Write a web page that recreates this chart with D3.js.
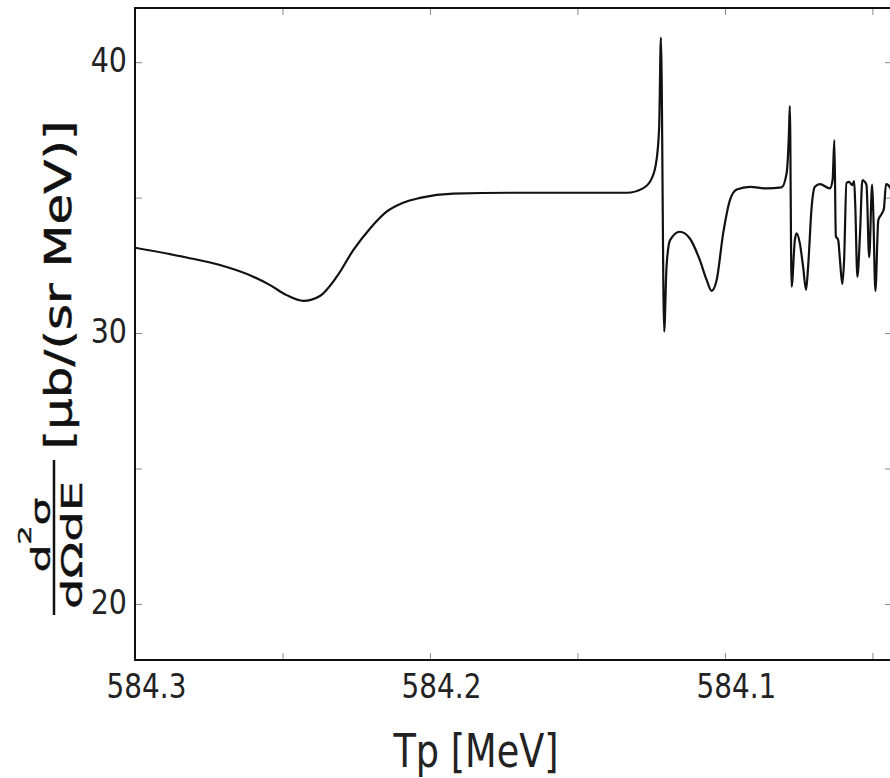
<!DOCTYPE html>
<html lang="en">
<head>
<meta charset="UTF-8">
<title>Tp spectrum</title>
<style>
    body,html{
        margin:0;
        padding:0;
        border:0;
        background:#fff;
    }
    svg{display:block;font-family:"DejaVu Sans",sans-serif;}
</style>
</head>
<body>
<svg id="svg" width="890" height="778"></svg>
<script src="https://cdnjs.cloudflare.com/ajax/libs/d3/7.8.5/d3.min.js"></script>
<script>
// values: proton energy Tp [MeV] and d2sigma/dOmega dE
var tp = [584.3, 584.2825, 584.2712, 584.2599, 584.2542, 584.2486, 584.2429, 584.2373, 584.2316,
    584.2260, 584.2203, 584.2147, 584.2091, 584.2034, 584.1921, 584.1695, 584.1424, 584.1332,
    584.1278, 584.1248, 584.1232, 584.1223, 584.1217, 584.1206, 584.1198, 584.1186, 584.1153,
    584.1119, 584.1085, 584.1062, 584.1045, 584.1028, 584.1006, 584.0983, 584.0960, 584.0915,
    584.0859, 584.0808, 584.0791, 584.0783, 584.0780, 584.0774, 584.0763, 584.0757, 584.0746,
    584.0735, 584.0725, 584.0718, 584.0706, 584.0695, 584.0678, 584.0644, 584.0635, 584.0629,
    584.0624, 584.0616, 584.0610, 584.0602, 584.0596, 584.0588, 584.0579, 584.0569, 584.0562,
    584.0558, 584.0551, 584.0542, 584.0534, 584.0525, 584.0520, 584.0511, 584.0501, 584.0497,
    584.0490, 584.0480, 584.0469, 584.0461, 584.0454, 584.0446, 584.0437];
var sigma = [33.15, 32.79, 32.51, 32.08, 31.77, 31.40, 31.19, 31.37, 32.08,
    33.06, 33.86, 34.48, 34.81, 34.99, 35.15, 35.18, 35.18, 35.18,
    35.34, 35.71, 36.38, 37.61, 40.91, 30.05, 32.45, 33.43, 33.74,
    33.49, 32.69, 31.96, 31.56, 31.96, 33.68, 34.91, 35.30, 35.40,
    35.34, 35.38, 35.89, 37.38, 38.38, 31.71, 33.43, 33.68, 33.31,
    32.45, 31.59, 32.45, 34.66, 35.40, 35.50, 35.34, 35.65, 37.12,
    33.58, 33.43, 32.69, 31.81, 32.69, 35.54, 35.58, 35.46, 35.61,
    34.66, 32.07, 33.68, 35.65, 35.57, 35.46, 32.80, 35.48, 34.43,
    31.55, 34.17, 34.39, 34.60, 35.50, 35.46, 35.31];

var xTicks = [584.3, 584.25, 584.2, 584.15, 584.1, 584.05];
var xLabels = ['584.3', '', '584.2', '', '584.1', ''];
var yTicks = [20, 25, 30, 35, 40];
var yLabels = ['20', '', '30', '', '40'];

var L = 135, T = 8, R = 891, B = 660;

var svg = d3.select('#svg');

var x = d3.scaleLinear().domain([584.3, 584.0437]).range([L, R]);
var y = d3.scaleLinear().domain([17.93, 42.0]).range([B, T]);

var data = tp.map(function(v, i){ return {x: v, y: sigma[i]}; });

svg.append('clipPath').attr('id', 'clip')
    .append('rect').attr('x', L).attr('y', T).attr('width', R - L).attr('height', B - T);

//ticks on all four sides, pointing inwards
function styleTicks(g){
    g.attr('font-family', '"DejaVu Sans",sans-serif');
    g.select('.domain').remove();
    g.selectAll('.tick line').attr('stroke', '#888').attr('stroke-width', 1);
    g.selectAll('.tick text').attr('fill', '#222').style('font-size', '34px');
}

svg.append('g').attr('transform', 'translate(0,' + B + ')')
    .call(d3.axisBottom(x).tickValues(xTicks).tickSize(-7).tickPadding(14)
        .tickFormat(function(d, i){ return xLabels[i]; }))
    .call(styleTicks)
    .call(function(g){
        g.selectAll('.tick text').attr('x', 11 / 0.82).attr('transform', 'scale(0.82,1)');
    });

svg.append('g').attr('transform', 'translate(0,' + T + ')')
    .call(d3.axisTop(x).tickValues(xTicks).tickSize(-7).tickFormat(''))
    .call(styleTicks);

svg.append('g').attr('transform', 'translate(' + L + ',0)')
    .call(d3.axisLeft(y).tickValues(yTicks).tickSize(-7).tickPadding(8)
        .tickFormat(function(d, i){ return yLabels[i]; }))
    .call(styleTicks)
    .call(function(g){
        g.selectAll('.tick text').attr('x', -8 / 0.84).attr('dy', '0.28em').attr('transform', 'scale(0.84,1)');
    });

svg.append('g').attr('transform', 'translate(' + R + ',0)')
    .call(d3.axisRight(y).tickValues(yTicks).tickSize(-6).tickFormat(''))
    .call(styleTicks);

// frame
svg.append('path')
    .attr('d', 'M' + R + ',' + T + 'H' + L + 'V' + B + 'H' + R)
    .attr('fill', 'none').attr('stroke', '#111').attr('stroke-width', 2);

var line = d3.line()
    .x(function(d){ return x(d.x); })
    .y(function(d){ return y(d.y); })
    .curve(d3.curveMonotoneX);

svg.append('path').datum(data)
    .attr('clip-path', 'url(#clip)')
    .attr('d', line)
    .attr('fill', 'none')
    .attr('stroke', '#111')
    .attr('stroke-width', 2.2)
    .attr('stroke-linejoin', 'round');

// x axis title
svg.append('text')
    .attr('transform', 'translate(476,767) scale(0.78,1)')
    .attr('text-anchor', 'middle')
    .attr('fill', '#222')
    .style('font-size', '47px')
    .text('Tp [MeV]');

// y axis title: fraction d2sigma / dOmega dE followed by units
var yl = svg.append('g').attr('fill', '#111').attr('stroke', '#111').attr('stroke-width', 0.7);

yl.append('text')
    .attr('transform', 'translate(71,285) scale(0.74,1) rotate(-90)')
    .attr('text-anchor', 'middle')
    .style('font-size', '50px')
    .text('[\u03bcb/(sr MeV)]');

var num = yl.append('text')
    .attr('transform', 'translate(50,535) scale(0.6,1) rotate(-90)')
    .attr('text-anchor', 'middle')
    .style('font-size', '44px');
num.append('tspan').text('d');
num.append('tspan').attr('dy', -31).style('font-size', '30px').text('2');
num.append('tspan').attr('dy', 31).text('\u03c3');

yl.append('text')
    .attr('transform', 'translate(82,545) scale(0.58,1) rotate(-90)')
    .attr('text-anchor', 'middle')
    .style('font-size', '48px')
    .text('d\u03a9dE');

yl.append('line')
    .attr('x1', 54).attr('x2', 54).attr('y1', 460).attr('y2', 615)
    .attr('stroke-width', 2.5);
</script>
</body>
</html>
